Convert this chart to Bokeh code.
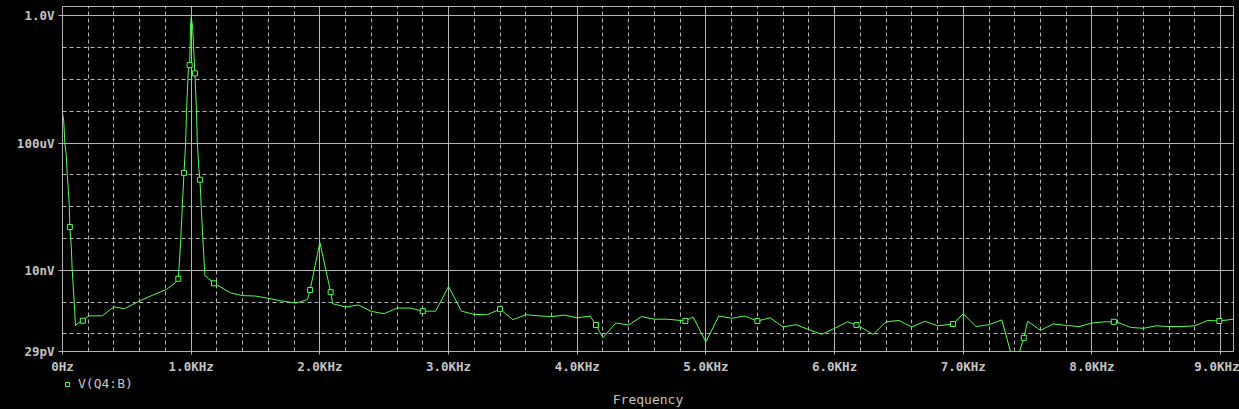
import numpy as np
from bokeh.plotting import figure
from bokeh.layouts import column
from bokeh.models import (Range1d, FixedTicker, Grid, CustomJSTickFormatter, Legend,
                          LegendItem)
from bokeh.embed import file_html
from bokeh.resources import INLINE

# FFT of V(Q4:B)
freq_hz = [0, 10, 18, 29, 37, 44, 52, 57, 68, 75, 91, 101, 114, 158, 205, 309, 399, 482,
           555, 659, 807, 866, 900, 918, 931, 944, 957, 965, 978, 988, 995, 1000, 1011,
           1029, 1040, 1048, 1060, 1068, 1079, 1092, 1107, 1177, 1307, 1398, 1501, 1605,
           1696, 1813, 1904, 1924, 2000, 2084, 2100, 2200, 2300, 2400, 2500, 2600, 2700,
           2800, 2900, 3000, 3100, 3200, 3300, 3400, 3500, 3600, 3700, 3800, 3900, 4000,
           4100, 4146, 4200, 4300, 4400, 4500, 4600, 4700, 4840, 4900, 5000, 5100, 5200,
           5300, 5400, 5500, 5600, 5700, 5800, 5900, 6000, 6100, 6170, 6200, 6300, 6400,
           6500, 6600, 6700, 6800, 6880, 6920, 7000, 7100, 7200, 7300, 7400, 7470, 7500,
           7600, 7700, 7800, 7900, 8000, 8100, 8170, 8200, 8300, 8400, 8500, 8600, 8700,
           8800, 8900, 8990, 9100]
volts = [8.9e-4, 4.7e-4, 1.0e-4, 4.3e-5, 1.0e-5, 4.0e-6, 1.2e-6, 2.3e-7, 5.8e-8, 1.1e-8,
         1.0e-9, 1.8e-10, 2.1e-10, 2.6e-10, 3.7e-10, 3.7e-10, 7.1e-10, 6.2e-10, 8.8e-10,
         1.4e-9, 2.5e-9, 3.7e-9, 5.4e-9, 7.7e-8, 1.0e-6, 1.15e-5, 1.0e-4, 1.4e-3, 1.95e-2,
         2.8e-2, 0.44, 0.92, 0.44, 1.54e-2, 1.4e-3, 1.0e-4, 1.5e-5, 7.0e-6, 8.3e-7, 7.7e-8,
         6.8e-9, 3.9e-9, 1.95e-9, 1.6e-9, 1.55e-9, 1.3e-9, 1.1e-9, 9.3e-10, 1.2e-9, 2.4e-9,
         7.5e-8, 2.05e-9, 8.9e-10, 7.0e-10, 8.1e-10, 5.1e-10, 4.3e-10, 6.5e-10, 6.5e-10,
         5.2e-10, 5.2e-10, 3.1e-9, 5.2e-10, 4.1e-10, 4.0e-10, 6.0e-10, 2.8e-10, 4.0e-10,
         3.7e-10, 3.5e-10, 3.9e-10, 3.2e-10, 3.65e-10, 1.9e-10, 7.6e-11, 2.2e-10, 1.9e-10,
         3.5e-10, 2.9e-10, 2.9e-10, 2.55e-10, 3.4e-10, 5.6e-11, 3.65e-10, 3.1e-10, 3.65e-10,
         2.55e-10, 3.2e-10, 1.65e-10, 1.95e-10, 1.36e-10, 9.7e-11, 1.5e-10, 2.4e-10, 1.9e-10,
         1.65e-10, 9.7e-11, 2.4e-10, 2.65e-10, 1.65e-10, 2.5e-10, 1.8e-10, 1.95e-10, 2.05e-10,
         4.3e-10, 1.7e-10, 1.95e-10, 2.75e-10, 9.0e-12, 7.5e-11, 2.5e-10, 1.3e-10, 2.05e-10,
         1.85e-10, 1.7e-10, 2.2e-10, 2.4e-10, 2.4e-10, 2.3e-10, 1.6e-10, 1.5e-10, 1.8e-10,
         1.7e-10, 1.7e-10, 1.8e-10, 2.65e-10, 2.55e-10, 2.9e-10]
# points that carry the little square symbol
marker_hz = [57, 158, 900, 944, 988, 1029, 1068, 1177, 1924, 2084, 2800, 3400, 4146,
             4840, 5400, 6170, 6920, 7470, 8170, 8990]

x_ticks = [0, 1000, 2000, 3000, 4000, 5000, 6000, 7000, 8000, 9000]
x_tick_labels = ["0Hz", "1.0KHz", "2.0KHz", "3.0KHz", "4.0KHz", "5.0KHz", "6.0KHz",
                 "7.0KHz", "8.0KHz", "9.0KHz"]
y_ticks = [2.8e-11, 1e-8, 1e-4, 1.0]
y_tick_labels = ["29pV", "10nV", "100uV", "1.0V"]
y_dashed = [1e-10, 1e-9, 1e-7, 1e-6, 1e-5, 1e-3, 1e-2, 1e-1]
x_dashed = [f for f in range(200, 9100, 200) if f % 1000 != 0]

GREEN = "#50ff50"
GRID = "#b4b4b4"
TEXT = "#c4c4c4"
MONO = "DejaVu Sans Mono"

xr = Range1d(0, 9100)

p = figure(width=1239, height=376, y_axis_type="log",
           x_range=xr, y_range=Range1d(2.8e-11, 1.95),
           output_backend="svg", toolbar_location=None,
           min_border_left=62, min_border_right=6, min_border_top=6, min_border_bottom=23,
           background_fill_color="black", border_fill_color="black")
p.outline_line_color = GRID

# solid grid on the labelled ticks, dashed between
p.xgrid.ticker = FixedTicker(ticks=x_ticks)
p.ygrid.ticker = FixedTicker(ticks=[1e-8, 1e-4, 1.0])
for g in (p.xgrid[0], p.ygrid[0]):
    g.grid_line_color = GRID
    g.grid_line_width = 1
p.add_layout(Grid(dimension=0, ticker=FixedTicker(ticks=x_dashed),
                  grid_line_color=GRID, grid_line_dash="4 3"))
p.add_layout(Grid(dimension=1, ticker=FixedTicker(ticks=y_dashed),
                  grid_line_color=GRID, grid_line_dash="4 3"))

p.xaxis.ticker = FixedTicker(ticks=x_ticks)
p.xaxis.formatter = CustomJSTickFormatter(args=dict(tvals=x_ticks, tlabels=x_tick_labels), code="""
    let best = 0, d = Infinity;
    for (let i = 0; i < tvals.length; i++) {
        const e = Math.abs(tick - tvals[i]);
        if (e < d) { d = e; best = i; }
    }
    return tlabels[best];
""")
p.yaxis.ticker = FixedTicker(ticks=y_ticks)
p.yaxis.formatter = CustomJSTickFormatter(args=dict(tvals=y_ticks, tlabels=y_tick_labels), code="""
    let best = 0, d = Infinity;
    for (let i = 0; i < tvals.length; i++) {
        const e = Math.abs(Math.log10(tick) - Math.log10(tvals[i]));
        if (e < d) { d = e; best = i; }
    }
    return tlabels[best];
""")

for ax in (p.xaxis[0], p.yaxis[0]):
    ax.axis_line_color = GRID
    ax.major_tick_line_color = GRID
    ax.minor_tick_line_color = None
    ax.major_label_text_color = TEXT
    ax.major_label_text_font = MONO
    ax.major_label_text_font_style = "bold"
    ax.major_label_text_font_size = "12.5px"
p.xaxis.major_tick_in = 3
p.xaxis.major_tick_out = 3
p.xaxis.major_label_standoff = 4
p.yaxis.major_tick_in = 0
p.yaxis.major_tick_out = 4
p.yaxis.major_label_standoff = 4

p.line(freq_hz, volts, line_color=GREEN, line_width=1)

fx = np.array(freq_hz)
fv = np.array(volts)
sel = np.isin(fx, marker_hz)
p.scatter(fx[sel], fv[sel], marker="square", size=5,
          line_color=GREEN, line_width=1, fill_color="black")

# strip under the plot: trace legend and the axis title
# (its y range sits above every value, so the key renderer itself stays out of view)
q = figure(width=1239, height=33, x_range=xr, y_range=Range1d(2, 3),
           output_backend="svg", toolbar_location=None,
           min_border_left=62, min_border_right=6, min_border_top=0, min_border_bottom=0,
           background_fill_color="black", border_fill_color="black")
q.outline_line_color = None
q.grid.visible = False
q.yaxis.visible = False
key = q.scatter(fx[sel], fv[sel], marker="square", size=5,
                line_color=GREEN, line_width=1, fill_color="black")
q.add_layout(Legend(items=[LegendItem(label="V(Q4:B)", renderers=[key])],
                    location="top_left", padding=0, margin=0, spacing=0,
                    glyph_width=10, glyph_height=10, label_standoff=6,
                    background_fill_alpha=0, border_line_color=None,
                    label_text_font=MONO, label_text_font_size="13px",
                    label_text_color=TEXT))
qx = q.xaxis[0]
qx.ticker = FixedTicker(ticks=[])
qx.axis_line_color = None
qx.major_tick_line_color = None
qx.minor_tick_line_color = None
qx.major_tick_out = 0
qx.major_tick_in = 0
qx.major_label_standoff = 0
qx.axis_label = "Frequency"
qx.axis_label_text_font = MONO
qx.axis_label_text_font_style = "normal"
qx.axis_label_text_font_size = "13px"
qx.axis_label_text_color = TEXT
qx.axis_label_standoff = 1

layout = column(p, q, spacing=0, styles={"background-color": "black"})
open("out.html", "w").write(file_html(layout, INLINE))
